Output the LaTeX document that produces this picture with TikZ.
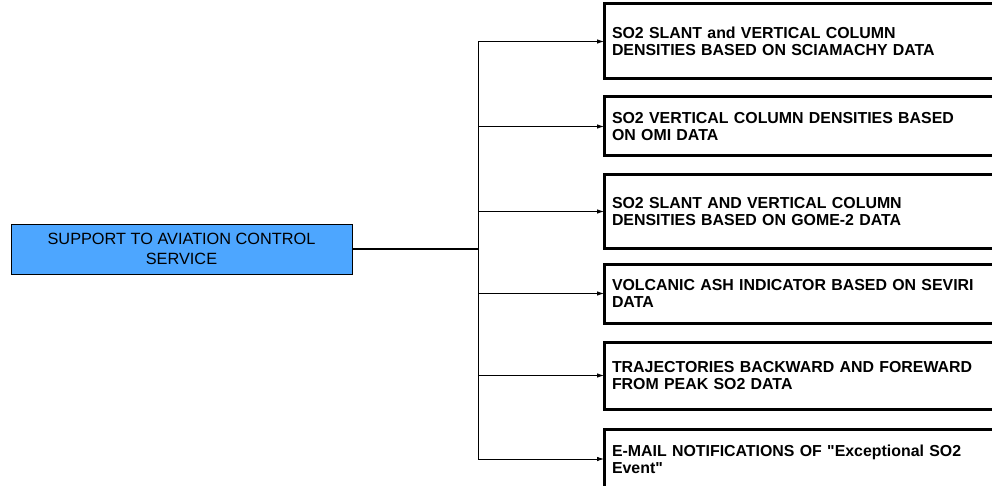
\documentclass[tikz,border=0pt]{standalone}
\usepackage{fontspec}
\setmainfont{Liberation Sans}
\usetikzlibrary{arrows.meta}
\definecolor{servblue}{RGB}{77,166,255}
\tikzset{
    service/.style={draw, line width=0.8pt, fill=servblue, outer sep=0pt,
        minimum width=341pt, minimum height=50pt, align=center,
        font=\fontsize{16.3}{20.5}\selectfont},
    product/.style={draw, line width=3pt, outer sep=0pt, anchor=west,
        inner xsep=8pt, text width=380pt, align=left,
        font=\bfseries\fontsize{15.9}{16.7}\selectfont},
    feed/.style={-{Latex[length=7pt,width=4.5pt]}, line width=0.8pt}
}
\begin{document}
\begin{tikzpicture}[x=1pt,y=-1pt]
    \useasboundingbox (0,0) rectangle (992,486);
    \node [service] (main) at (181.5,249) {SUPPORT TO AVIATION CONTROL\\SERVICE};
    \node [product, minimum height=75pt] (d1) at (604,41.5)
        {SO2 SLANT and VERTICAL COLUMN\\DENSITIES BASED ON SCIAMACHY DATA};
    \node [product, minimum height=59pt] (d2) at (604,126.5)
        {SO2 VERTICAL COLUMN DENSITIES BASED\\ON OMI DATA};
    \node [product, minimum height=73pt] (d3) at (604,211.5)
        {SO2 SLANT AND VERTICAL COLUMN\\DENSITIES BASED ON GOME-2 DATA};
    \node [product, minimum height=59pt] (d4) at (604,293.5)
        {VOLCANIC ASH INDICATOR BASED ON SEVIRI\\DATA};
    \node [product, minimum height=67pt] (d5) at (604,375.5)
        {TRAJECTORIES BACKWARD AND FOREWARD\\FROM PEAK SO2 DATA};
    \node [product, minimum height=60pt] (d6) at (604,459)
        {E-MAIL NOTIFICATIONS OF \textquotedbl Exceptional SO2\\Event\textquotedbl};
    \coordinate (bus) at (478,249);
    \draw [line width=2.4pt] (main.east) -- (bus);
    \draw [line width=0.8pt] (bus |- d1.west) -- (bus |- d6.west);
    \foreach \i in {1,...,6}
        \draw [feed] (bus |- d\i.west) -- (d\i.west);
    % \draw [help lines] (0,0) grid[step=50] (992,486);
\end{tikzpicture}
\end{document}
